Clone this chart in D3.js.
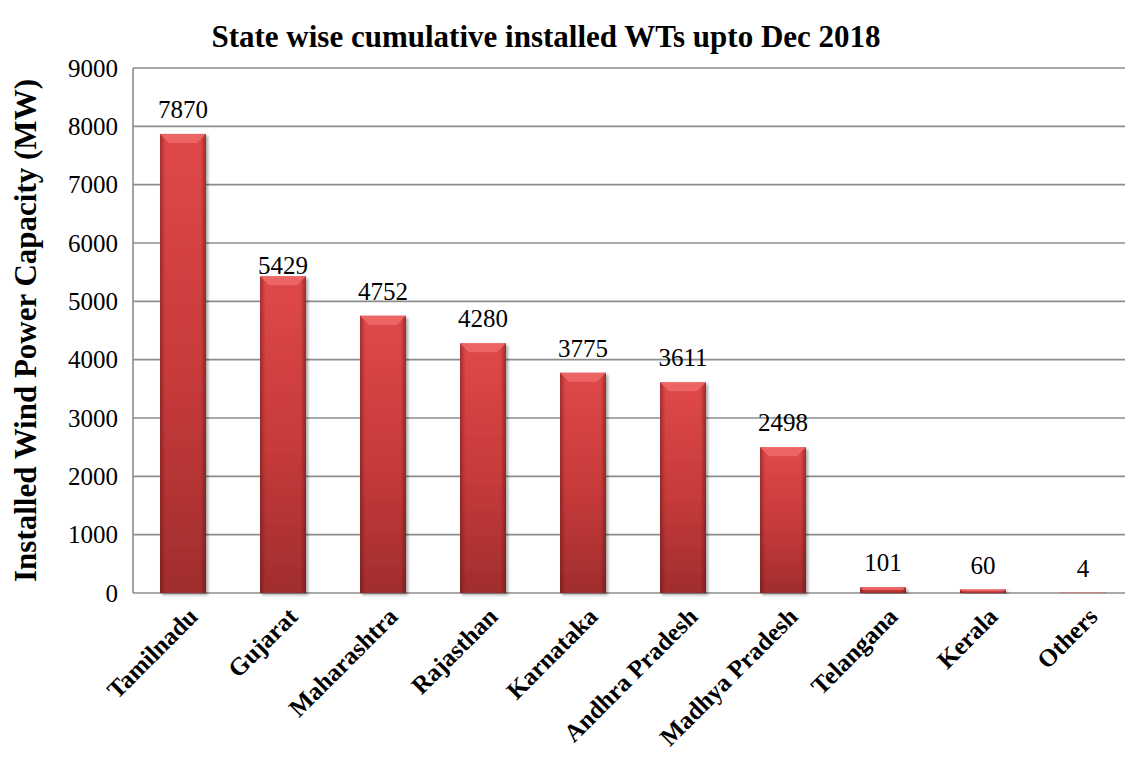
<!DOCTYPE html>
<html>
<head>
<meta charset="utf-8">
<script src="https://cdn.jsdelivr.net/npm/d3@7"></script>
<style>
  html, body { margin: 0; padding: 0; background: #fff; }
  svg { display: block; }
  text { font-family: "Liberation Serif", "Times New Roman", serif; fill: #000; }
</style>
</head>
<body>
<svg id="chart" width="1125" height="763"></svg>
<script>
// Installed wind capacity by state (MW), cumulative to Dec 2018
const states = ["Tamilnadu", "Gujarat", "Maharashtra", "Rajasthan", "Karnataka",
                "Andhra Pradesh", "Madhya Pradesh", "Telangana", "Kerala", "Others"];
const capacityMW = [7870, 5429, 4752, 4280, 3775, 3611, 2498, 101, 60, 4];
const yTicks = [0, 1000, 2000, 3000, 4000, 5000, 6000, 7000, 8000, 9000];
const titleText = "State wise cumulative installed WTs upto Dec 2018";
const yAxisTitle = "Installed Wind Power Capacity (MW)";

const svg = d3.select("#chart");
const plot = { left: 133, right: 1133, top: 68, bottom: 593 };

const x = d3.scaleBand()
  .domain(states)
  .range([plot.left, plot.right])
  .paddingInner(0.54)
  .paddingOuter(0.27);

const y = d3.scaleLinear()
  .domain([0, 9000])
  .range([plot.bottom, plot.top]);

// Gradients for the bevelled bars
const defs = svg.append("defs");
const vg = defs.append("linearGradient").attr("id", "barV")
  .attr("x1", 0).attr("y1", 0).attr("x2", 0).attr("y2", 1);
vg.append("stop").attr("offset", "0%").attr("stop-color", "#e04848");
vg.append("stop").attr("offset", "55%").attr("stop-color", "#c63a3a");
vg.append("stop").attr("offset", "100%").attr("stop-color", "#a02d2d");

const hg = defs.append("linearGradient").attr("id", "barH")
  .attr("x1", 0).attr("y1", 0).attr("x2", 1).attr("y2", 0);
hg.append("stop").attr("offset", "0%").attr("stop-color", "#5a0f0f").attr("stop-opacity", 0.45);
hg.append("stop").attr("offset", "12%").attr("stop-color", "#5a0f0f").attr("stop-opacity", 0.0);
hg.append("stop").attr("offset", "88%").attr("stop-color", "#5a0f0f").attr("stop-opacity", 0.0);
hg.append("stop").attr("offset", "100%").attr("stop-color", "#5a0f0f").attr("stop-opacity", 0.5);

const shadow = defs.append("filter").attr("id", "shadow")
  .attr("x", "-20%").attr("y", "-5%").attr("width", "150%").attr("height", "115%");
shadow.append("feDropShadow").attr("dx", 2).attr("dy", 2).attr("stdDeviation", 1.5)
  .attr("flood-color", "#000").attr("flood-opacity", 0.35);

// Horizontal gridlines
svg.append("g").selectAll("line")
  .data(yTicks)
  .join("line")
  .attr("x1", plot.left).attr("x2", plot.right)
  .attr("y1", d => y(d)).attr("y2", d => y(d))
  .attr("stroke", "#8c8c8c").attr("stroke-width", 1.6);

// Value axis line
svg.append("line")
  .attr("x1", plot.left).attr("x2", plot.left)
  .attr("y1", plot.top).attr("y2", plot.bottom)
  .attr("stroke", "#8c8c8c").attr("stroke-width", 1.6);

// Y tick labels
const yAxis = d3.axisLeft(y).tickValues(yTicks).tickSize(0).tickPadding(15).tickFormat(d3.format("d"));
const yg = svg.append("g").attr("transform", `translate(${plot.left},0)`).call(yAxis);
yg.select(".domain").remove();
yg.selectAll("text")
  .style("font-family", '"Liberation Serif", "Times New Roman", serif')
  .style("font-size", "25px").attr("fill", "#000");

// Bars
const bars = svg.append("g").selectAll("g.bar")
  .data(states.map((s, i) => ({ state: s, value: capacityMW[i] })))
  .join("g").attr("class", "bar");

bars.append("rect")
  .attr("x", d => x(d.state)).attr("width", x.bandwidth())
  .attr("y", d => y(d.value)).attr("height", d => y(0) - y(d.value))
  .attr("fill", "url(#barV)").attr("filter", "url(#shadow)");

bars.append("rect")
  .attr("x", d => x(d.state)).attr("width", x.bandwidth())
  .attr("y", d => y(d.value)).attr("height", d => y(0) - y(d.value))
  .attr("fill", "url(#barH)");

// Top bevel face
bars.append("path")
  .attr("d", d => {
    const x0 = x(d.state), x1 = x0 + x.bandwidth();
    const t = y(d.value), h = y(0) - t;
    const b = Math.min(9, h / 2);
    return `M${x0},${t}L${x1},${t}L${x1 - b},${t + b}L${x0 + b},${t + b}Z`;
  })
  .attr("fill", "#f06a6a").attr("opacity", 0.85);

// Value labels
const labelLift = { Gujarat: 2 };
svg.append("g").selectAll("text")
  .data(states.map((s, i) => ({ state: s, value: capacityMW[i] })))
  .join("text")
  .attr("x", d => x(d.state) + x.bandwidth() / 2)
  .attr("y", d => y(d.value) - (labelLift[d.state] ?? 16))
  .attr("text-anchor", "middle")
  .style("font-size", "25px")
  .text(d => d.value);

// Category labels, slanted
svg.append("g").selectAll("text")
  .data(states)
  .join("text")
  .attr("transform", d => `translate(${x(d) + x.bandwidth() / 2 + 10},${plot.bottom + 19}) rotate(-45)`)
  .attr("text-anchor", "end")
  .attr("dy", "0.35em")
  .style("font-size", "25px")
  .style("font-weight", "bold")
  .text(d => d);

// Axis title
svg.append("text")
  .attr("transform", `translate(36,${(plot.top + plot.bottom) / 2}) rotate(-90)`)
  .attr("text-anchor", "middle")
  .style("font-size", "31px")
  .style("font-weight", "bold")
  .text(yAxisTitle);

// Chart title
svg.append("text")
  .attr("x", 546).attr("y", 47)
  .attr("text-anchor", "middle")
  .style("font-size", "31px")
  .style("font-weight", "bold")
  .text(titleText);
</script>
</body>
</html>
